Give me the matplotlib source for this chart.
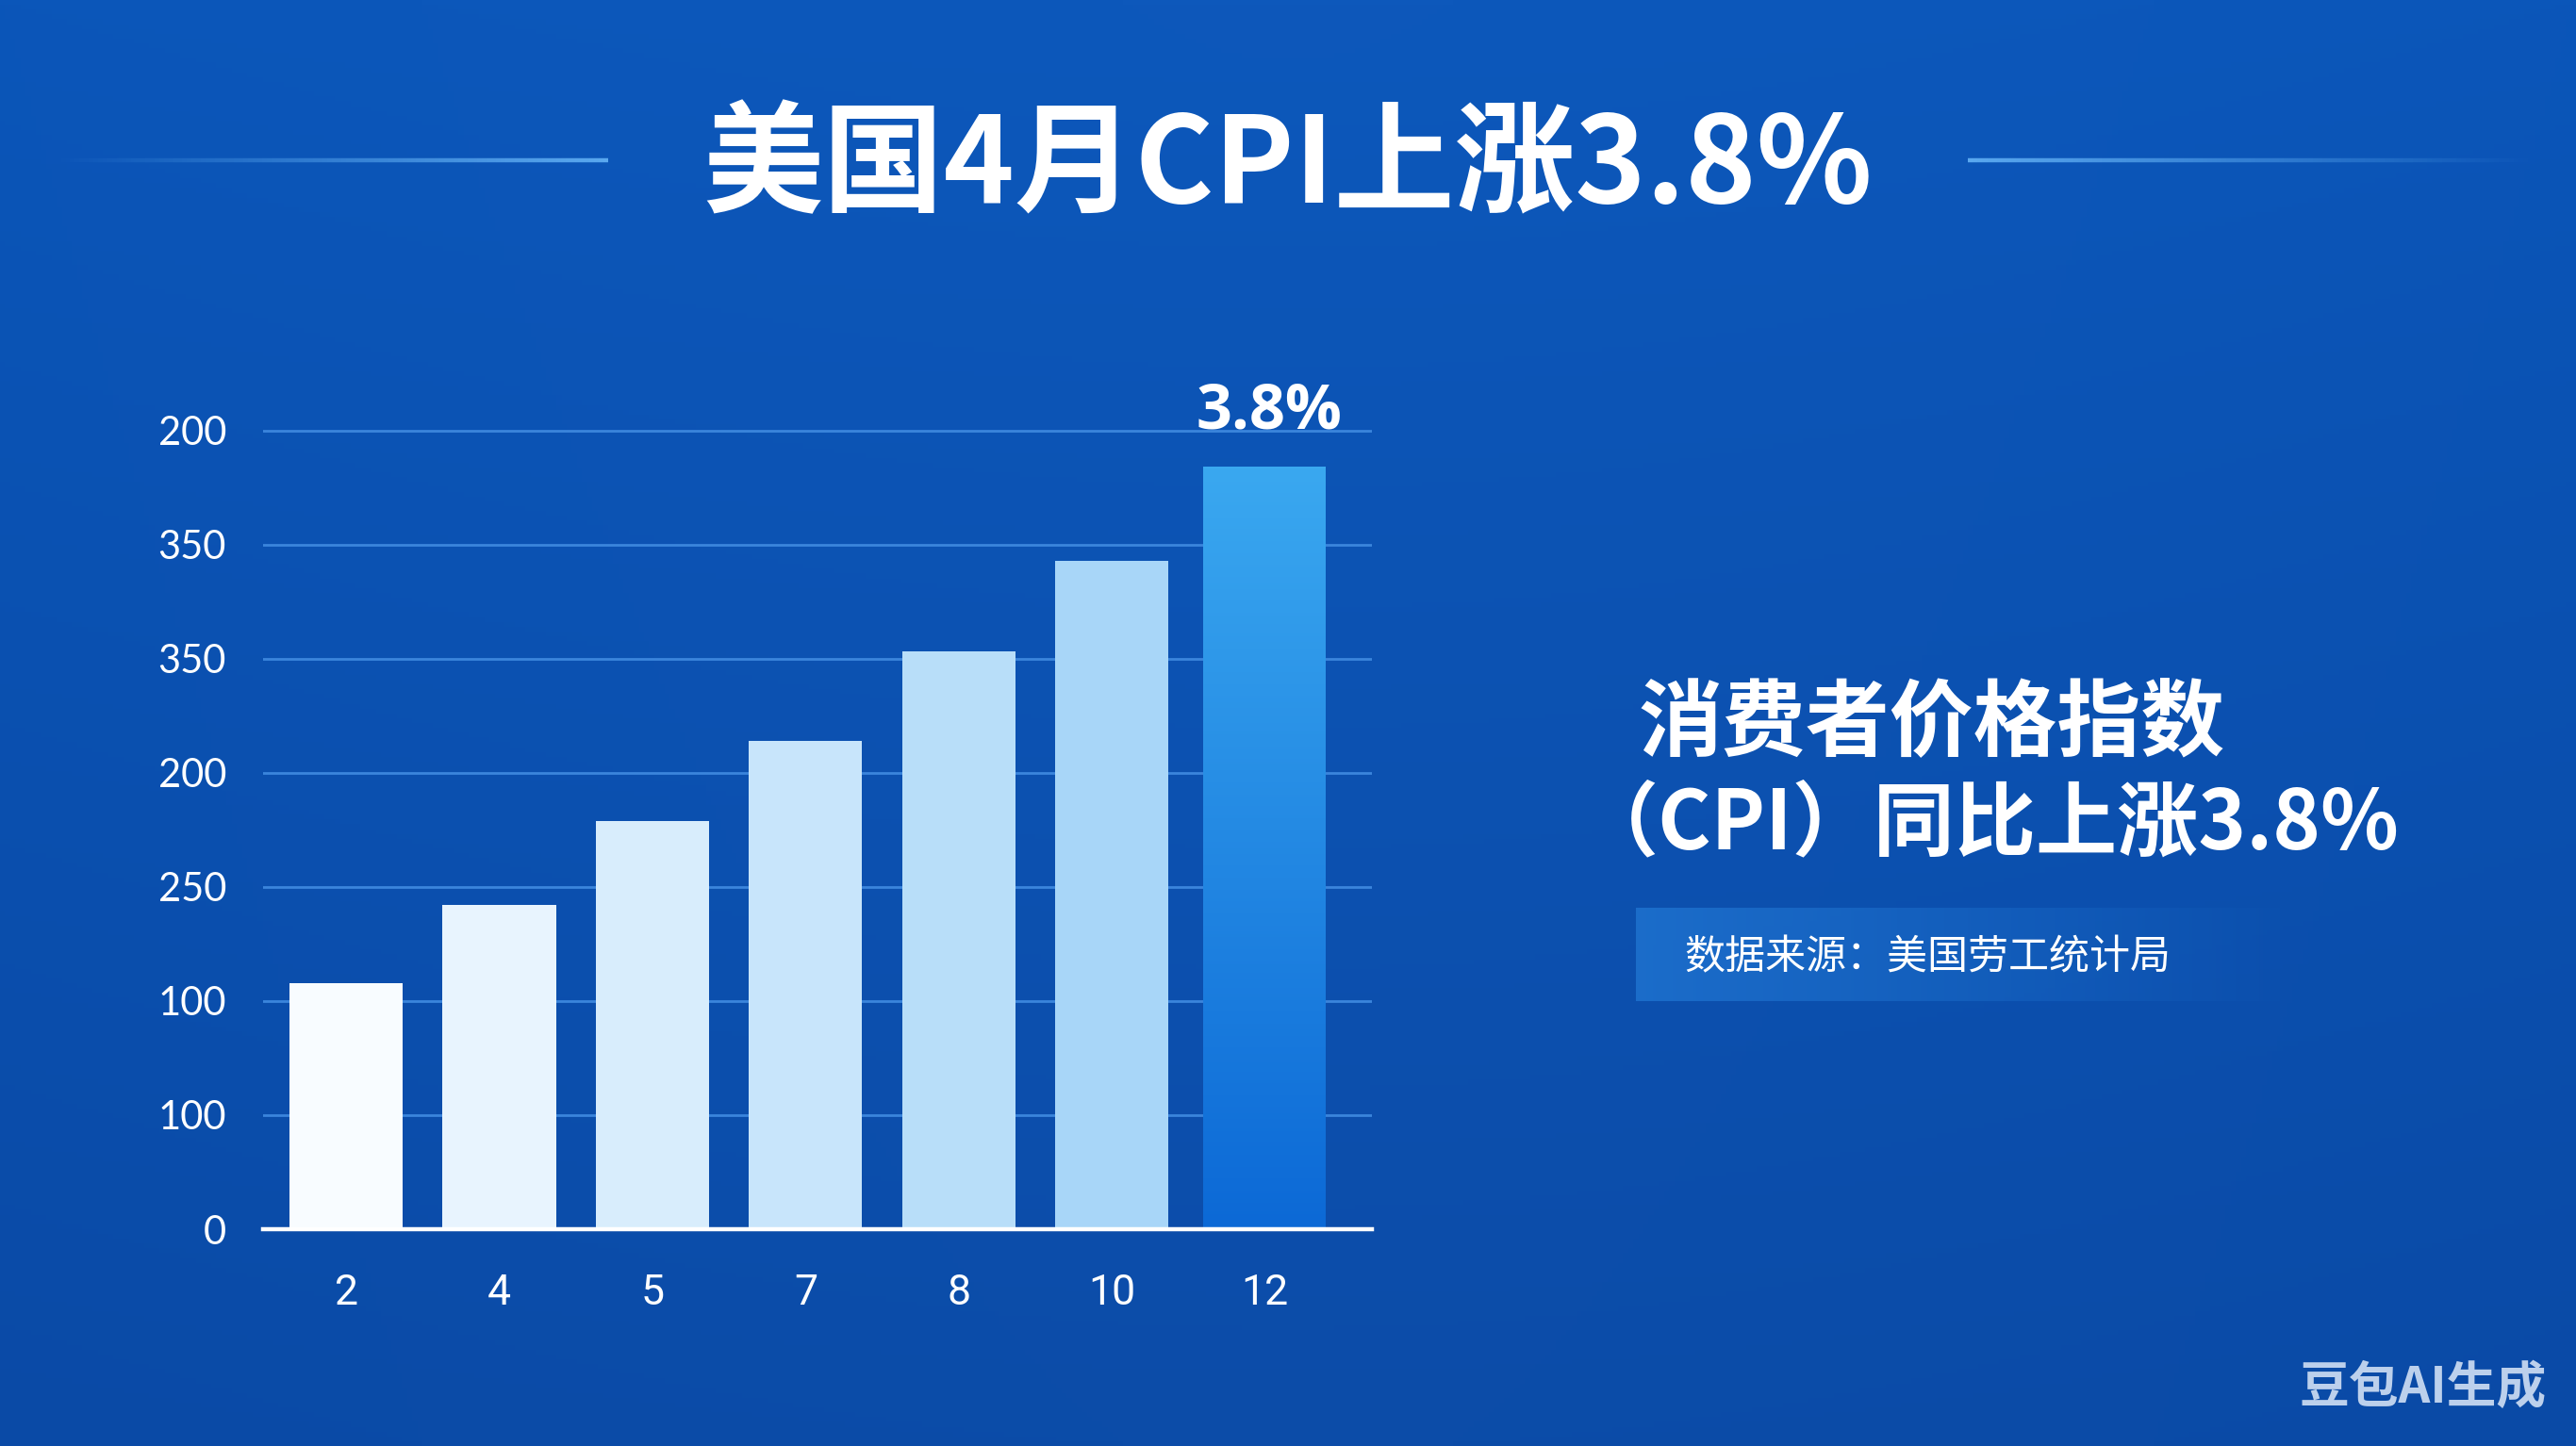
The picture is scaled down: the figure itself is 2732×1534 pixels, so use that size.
import numpy as np
import matplotlib
matplotlib.use('Agg')
import matplotlib.pyplot as plt
from matplotlib.collections import LineCollection
from matplotlib.colors import LinearSegmentedColormap, to_rgb

plt.rcParams['font.family'] = ['Noto Sans CJK SC', 'DejaVu Sans']

# data (bar heights on the chart's own grid scale)
months = ['2', '4', '5', '7', '8', '10', '12']
values = [108, 142, 179, 214, 253, 293, 334]
ytick_pos = [0, 50, 100, 150, 200, 250, 300, 350]
ytick_labels = ['0', '100', '100', '250', '200', '350', '350', '200']
highlight = '3.8%'

title = '美国4月CPI上涨3.8%'
headline = ['消费者价格指数', '（CPI）同比上涨3.8%']
source = '数据来源：美国劳工统计局'
watermark = '豆包AI生成'

fig = plt.figure(figsize=(13.66, 7.67), dpi=200)

# background gradient, full figure
bg = fig.add_axes([0, 0, 1, 1], zorder=0)
bg.set_xlim(0, 1)
bg.set_ylim(0, 1)
bg.axis('off')
yy, xx = np.mgrid[0:1:300j, 0:1:500j]
c_top = np.array(to_rgb('#0b56b9'))
c_bot = np.array(to_rgb('#0a4aa6'))
img = c_bot + (c_top - c_bot) * yy[..., None]
img = np.clip(img + 0.008 * np.sin(np.pi * xx)[..., None], 0, 1)
bg.imshow(img, extent=[0, 1, 0, 1], origin='lower', aspect='auto', zorder=0)

# thin fading lines either side of the title
def fade_line(x0, x1, y, bright_end):
    xs = np.linspace(x0, x1, 120)
    segs = [[(xs[i], y), (xs[i + 1], y)] for i in range(len(xs) - 1)]
    a = np.linspace(0, 1, len(segs)) if bright_end == 'right' else np.linspace(1, 0, len(segs))
    cols = [(*to_rgb('#5aa8ef'), v) for v in a]
    bg.add_collection(LineCollection(segs, colors=cols, linewidths=1.6, zorder=1))

fade_line(0.02, 0.236, 0.8895, 'right')
fade_line(0.764, 0.985, 0.8895, 'left')

# panel behind the source note
box = np.zeros((2, 200, 4))
box[..., :3] = to_rgb('#1e72cf')
box[..., 3] = np.linspace(0.85, 0.0, 200)
bg.imshow(box, extent=[0.635, 0.895, 0.308, 0.372], origin='lower', aspect='auto', zorder=1)

# bar chart
ax = fig.add_axes([0.1021, 0.1499, 0.4305, 0.5998], zorder=1)
ax.set_facecolor('none')
x = np.arange(len(months))
soft = LinearSegmentedColormap.from_list('soft', ['#f8fcff', '#a8d6f8'])
fills = [soft(i / (len(months) - 2)) for i in range(len(months) - 1)] + ['#2a8fe4']
widths = [0.74] * (len(months) - 1) + [0.8]
bars = ax.bar(x, values, width=widths, color=fills, zorder=3)

# vertical gradient on the highlighted bar
hb = bars[-1]
grad = LinearSegmentedColormap.from_list('hl', ['#0c69d6', '#3aa8f0'])
im = ax.imshow(np.linspace(0, 1, 256).reshape(-1, 1), cmap=grad, origin='lower', aspect='auto',
               extent=[hb.get_x(), hb.get_x() + hb.get_width(), 0, hb.get_height()], zorder=4)
im.set_clip_path(hb)

ax.annotate(highlight, xy=(x[-1], values[-1]), xytext=(1.5, 9), textcoords='offset points',
            ha='center', va='bottom', fontsize=24, fontweight='bold', color='white',
            family=['Open Sans', 'DejaVu Sans'], zorder=5)

ax.set_xlim(-0.543, 6.70)
ax.set_ylim(0, 380)
ax.set_xticks(x)
ax.set_xticklabels(months)
ax.set_yticks(ytick_pos)
ax.set_yticklabels(ytick_labels)
ax.yaxis.grid(True, color='#3b85dc', linewidth=1.0)
ax.set_axisbelow(True)
for side in ['top', 'right', 'left']:
    ax.spines[side].set_visible(False)
ax.spines['bottom'].set_color('white')
ax.spines['bottom'].set_linewidth(1.6)
ax.spines['bottom'].set_zorder(6)
ax.tick_params(axis='y', length=0, pad=14, labelcolor='white', labelsize=15)
ax.tick_params(axis='x', length=0, pad=17, labelcolor='white', labelsize=16)
for lbl in ax.get_yticklabels():
    lbl.set_fontfamily(['Lato', 'DejaVu Sans'])
for lbl in ax.get_xticklabels():
    lbl.set_fontfamily(['Roboto', 'DejaVu Sans'])

# texts
fig.text(0.5, 0.8840, title, ha='center', va='center', fontsize=46, fontweight='bold', color='white')
fig.text(0.6358, 0.4995, headline[0], ha='left', va='center', fontsize=32, fontweight='bold', color='white')
fig.text(0.6125, 0.4295, headline[1], ha='left', va='center', fontsize=31, fontweight='bold', color='white')
fig.text(0.6537, 0.3375, source, ha='left', va='center', fontsize=15.5, fontweight='medium', color='white')
fig.text(0.9407, 0.0404, watermark, ha='center', va='center', fontsize=19, fontweight='bold', color='#bcd0ec')

fig.savefig('out.png', dpi=200)
